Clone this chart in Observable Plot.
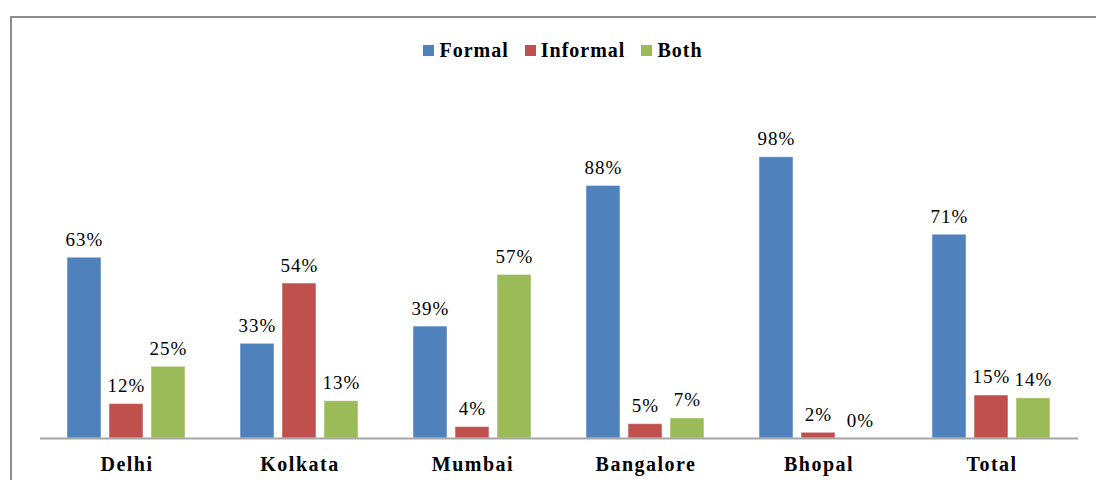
<!DOCTYPE html>
<html>
<head>
<meta charset="utf-8">
<script src="https://cdn.jsdelivr.net/npm/d3@7"></script>
<script src="https://cdn.jsdelivr.net/npm/@observablehq/plot@0.6"></script>
<style>
  html, body { margin: 0; padding: 0; background: #fff; }
  #wrap { position: relative; width: 1096px; height: 480px; overflow: hidden; }
  #frame { position: absolute; left: 10px; top: 16px; right: -10px; bottom: -10px;
           border-top: 2px solid #8c8c8c; border-left: 2px solid #8c8c8c; }
  #legend { position: absolute; top: 39px; left: 0; width: 1096px; display: flex; justify-content: center;
            padding-left: 30px; box-sizing: border-box;
            font-family: "Liberation Serif", "Times New Roman", serif; font-weight: bold; font-size: 20px; color: #000; }
  .item { display: flex; align-items: center; margin: 0 8px; letter-spacing: 1px; }
  .sw { width: 11px; height: 11px; margin-right: 5px; }
  #chart { position: absolute; left: 0; top: 0; }
</style>
</head>
<body>
<div id="wrap">
  <div id="frame"></div>
  <div id="legend"></div>
  <div id="chart"></div>
</div>
<script>
const cities = ["Delhi", "Kolkata", "Mumbai", "Bangalore", "Bhopal", "Total"];
const types = ["Formal", "Informal", "Both"];
const formal = [63, 33, 39, 88, 98, 71];
const informal = [12, 54, 4, 5, 2, 15];
const both = [25, 13, 57, 7, 0, 14];
const colors = ["#4f81bd", "#c0504d", "#9bbb59"];

const series = [formal, informal, both];
const data = [];
cities.forEach((c, i) => types.forEach((t, j) => data.push({city: c, type: t, value: series[j][i]})));

const legend = document.getElementById("legend");
types.forEach((t, j) => {
  const it = document.createElement("div");
  it.className = "item";
  const sw = document.createElement("div");
  sw.className = "sw";
  sw.style.background = colors[j];
  it.appendChild(sw);
  const sp = document.createElement("span");
  sp.textContent = t;
  it.appendChild(sp);
  legend.appendChild(it);
});

const chart = Plot.plot({
  width: 1096,
  height: 480,
  marginLeft: 38,
  marginRight: 16,
  marginTop: 151,
  marginBottom: 42,
  style: {background: "transparent", overflow: "visible"},
  fx: {domain: cities, padding: 0, axis: null},
  x: {domain: types, paddingInner: 0.186, paddingOuter: 0.61, axis: null},
  y: {domain: [0, 100], axis: null},
  color: {domain: types, range: colors},
  marks: [
    Plot.barY(data, {fx: "city", x: "type", y: "value", fill: "type", stroke: "#ffffff", strokeOpacity: 0.5, strokeWidth: 1}),
    Plot.ruleY([0], {stroke: "#a6a6a6", strokeWidth: 2}),
    Plot.text(data, {fx: "city", x: "type", y: "value", text: d => d.value + "%", lineAnchor: "bottom", dy: -12,
      fontFamily: "Liberation Serif", fontSize: 19, fill: "#000"}),
    Plot.axisFx({anchor: "bottom", tickSize: 0, tickPadding: 18, label: null,
      fontFamily: "Liberation Serif", fontSize: 20, fontWeight: "bold", fill: "#000"})
  ]
});
chart.querySelectorAll("g[aria-label='text'] text").forEach(t => t.style.letterSpacing = "1px");
chart.querySelectorAll("g[aria-label='fx-axis tick label'] text").forEach(t => t.style.letterSpacing = "1.5px");
document.getElementById("chart").appendChild(chart);
</script>
</body>
</html>
